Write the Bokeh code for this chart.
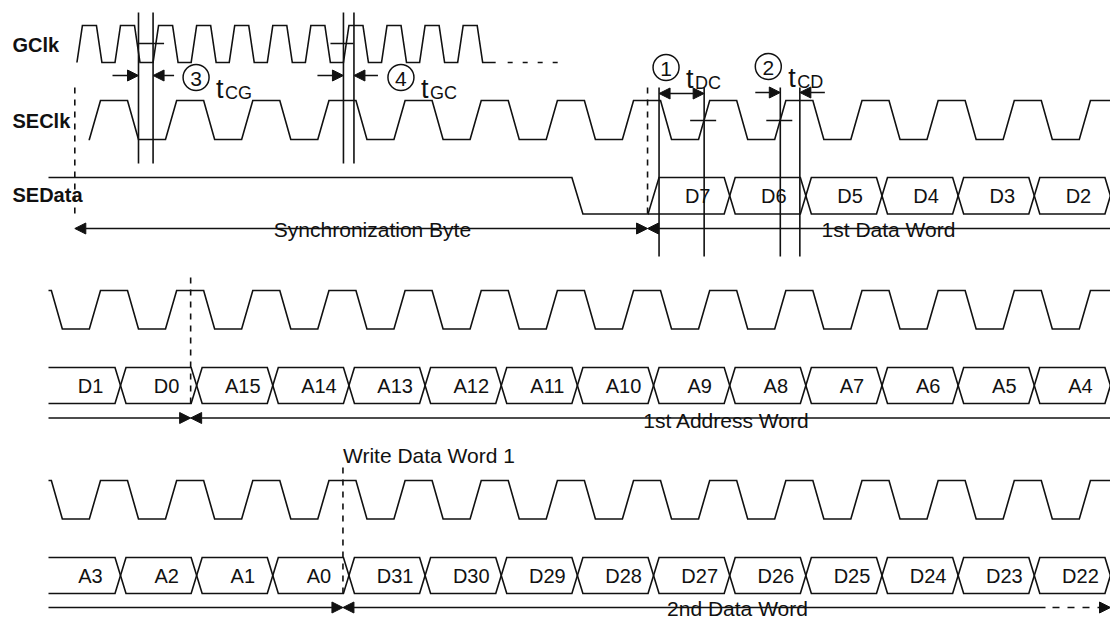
import numpy as np
from bokeh.plotting import figure
from bokeh.models import Range1d, ColumnDataSource, Arrow, NormalHead
from bokeh.core.properties import value
from bokeh.embed import file_html
from bokeh.resources import INLINE

# ---------------- data ----------------
signal_names = ["GClk", "SEClk", "SEData"]
row1_bits = ["D7", "D6", "D5", "D4", "D3", "D2"]
row2_bits = ["D1", "D0", "A15", "A14", "A13", "A12", "A11", "A10", "A9", "A8", "A7", "A6", "A5", "A4"]
row3_bits = ["A3", "A2", "A1", "A0", "D31", "D30", "D29", "D28", "D27", "D26", "D25", "D24", "D23", "D22"]
gclk_pulse_count = 11
row1_low_cycle = 6          # SEData drops low at this SEClk cycle
row1_first_bit_cycle = 7    # D7 begins at this cycle
timing_numbers = ["1", "2", "3", "4"]
timing_subscripts = ["DC", "CD", "CG", "GC"]
row1_spans = ["Synchronization Byte", "1st Data Word"]
row2_spans = ["1st Address Word"]
row3_spans = ["Write Data Word 1", "2nd Data Word"]

# ---------------- layout ----------------
W, H = 1110, 619
T0, P = 120.0, 76.15          # first bit boundary, SEClk period
XL, XR = 48.0, 1110.0
ROW_DY = 190.0
FONT = "Liberation Sans"
LW = 1.6
BLACK = "#111111"
WX = 5.5                       # half width of a bus crossing


def X(k):
    return T0 + P * k


def clip(xs, ys, x0, x1):
    xs = np.asarray(xs, float)
    ys = np.asarray(ys, float)
    inside = (xs > x0) & (xs < x1)
    nx = [x0] + list(xs[inside]) + [x1]
    ny = [float(np.interp(x0, xs, ys))] + list(ys[inside]) + [float(np.interp(x1, xs, ys))]
    return nx, ny


def seclk(x0, x1, hi, lo):
    xs, ys = [], []
    for k in range(-3, 16):
        c = X(k)
        xs += [c - 20, c + 7, c + 18, c + 45]
        ys += [hi, hi, lo, lo]
    return clip(xs, ys, x0, x1)


def zigzag(x0, x1, level0, crossings, hi, lo):
    lv = level0
    xs, ys = [x0 - 50], [lv]
    for c in crossings:
        other = lo if lv == hi else hi
        xs += [c - WX, c + WX]
        ys += [lv, other]
        lv = other
    xs.append(x1 + 50)
    ys.append(lv)
    return clip(xs, ys, x0, x1)


p = figure(width=W, height=H, x_range=Range1d(0, W), y_range=Range1d(H, 0),
           output_backend="svg", toolbar_location=None, min_border=0,
           x_axis_location=None, y_axis_location=None)
p.grid.visible = False
p.outline_line_color = None
p.background_fill_color = "white"
p.border_fill_color = "white"

solid_xs, solid_ys = [], []
dash_xs, dash_ys = [], []


def seg(x0, y0, x1, y1):
    solid_xs.append([x0, x1]); solid_ys.append([y0, y1])


def dseg(x0, y0, x1, y1):
    dash_xs.append([x0, x1]); dash_ys.append([y0, y1])


labels_x, labels_y, labels_t = [], [], []

# ---------- row 1 ----------
G_HI, G_LO = 25.0, 62.0
half = P / 2
ts0 = X(-0.5)
gx, gy = [ts0 - 5.5], [G_LO]
for j in range(gclk_pulse_count):
    ts = ts0 + j * half
    gx += [ts - 5.5, ts, ts + 14, ts + 19.5]
    gy += [G_LO, G_HI, G_HI, G_LO]
g_end = gx[-1]
gx.append(g_end + 13); gy.append(G_LO)
solid_xs.append(gx); solid_ys.append(gy)

C1_HI, C1_LO = 100.0, 139.0
sx, sy = seclk(X(-0.42), XR, C1_HI, C1_LO)
solid_xs.append(sx); solid_ys.append(sy)

D1_HI, D1_LO = 177.0, 213.5
cr = [X(row1_low_cycle)] + [X(k) for k in range(row1_first_bit_cycle, row1_first_bit_cycle + len(row1_bits) + 1)]
ax, ay = zigzag(XL, XR, D1_HI, cr, D1_HI, D1_LO)
solid_xs.append(ax); solid_ys.append(ay)
cr2 = [X(k) for k in range(row1_first_bit_cycle + 1, row1_first_bit_cycle + len(row1_bits) + 1)]
bx, by = zigzag(X(row1_first_bit_cycle) - WX, XR, D1_LO, cr2, D1_HI, D1_LO)
solid_xs.append(bx); solid_ys.append(by)
for i, b in enumerate(row1_bits):
    labels_x.append(X(row1_first_bit_cycle + i + 1) - 32)
    labels_y.append((D1_HI + D1_LO) / 2)
    labels_t.append(b)

# ---------- rows 2 and 3 ----------
for r, bits in ((1, row2_bits), (2, row3_bits)):
    hi = C1_HI + ROW_DY * r
    lo = hi + 38.5
    cx, cy = seclk(XL, XR, hi, lo)
    solid_xs.append(cx); solid_ys.append(cy)
    dhi = D1_HI + ROW_DY * r
    dlo = dhi + 36.0
    crs = [X(k) for k in range(len(bits))]
    ax, ay = zigzag(XL, XR, dhi, crs, dhi, dlo)
    bx, by = zigzag(XL, XR, dlo, crs, dhi, dlo)
    solid_xs += [ax, bx]; solid_ys += [ay, by]
    for i, b in enumerate(bits):
        labels_x.append(X(i) - 30)
        labels_y.append((dhi + dlo) / 2)
        labels_t.append(b)

# GClk dotted continuation
GD0 = g_end + 13
p.line([GD0 + 12, X(5.75)], [G_LO, G_LO], line_color=BLACK, line_width=LW, line_dash="5 10")

# ---------- timing markers ----------
tcg_l = X(0) + 18
tcg_r = ts0 + 2 * half - 5.5
tgc_l = ts0 + 7 * half - 5.5
tgc_r = X(3) + 5
for x in (tcg_l, tcg_r, tgc_l, tgc_r):
    seg(x, 12, x, 163)
seg(tcg_r - 14, 43, tcg_r + 11, 43)
seg(tgc_l - 13, 43, tgc_l + 10, 43)

tdc_l = X(7) + WX
tdc_r = X(7) + 50.6
tcd_l = X(8) + 50.6
tcd_r = X(9) - 6
for x in (tdc_l, tdc_r, tcd_l, tcd_r):
    seg(x, 87, x, 256)
seg(tdc_r - 14, 120, tdc_r + 12, 120)
seg(tcd_l - 14, 120, tcd_l + 12, 120)

# dashed reference lines
sync_x = X(-0.6)
b1 = X(row1_first_bit_cycle) - 6
b2 = X(1) - 6
b3 = X(3) - 6
dseg(sync_x, 87, sync_x, 215)
dseg(b1, 87, b1, 215)
dseg(b2, 277, b2, 405)
dseg(b3, 467, b3, 595)

p.multi_line(xs=solid_xs, ys=solid_ys, line_color=BLACK, line_width=LW, line_join="miter")
p.multi_line(xs=dash_xs, ys=dash_ys, line_color=BLACK, line_width=LW, line_dash="6 6")


def head():
    return NormalHead(size=11, fill_color=BLACK, line_color=BLACK, line_width=1)


def arrow(x0, y0, x1, y1, start=False, end=True):
    p.add_layout(Arrow(x_start=x0, y_start=y0, x_end=x1, y_end=y1,
                       start=head() if start else None, end=head() if end else None,
                       line_color=BLACK, line_width=LW))


# timing arrows
TA_Y = 75
arrow(tcg_l - 26, TA_Y, tcg_l, TA_Y)
arrow(tcg_r + 21, TA_Y, tcg_r, TA_Y)
arrow(tgc_l - 26, TA_Y, tgc_l, TA_Y)
arrow(tgc_r + 24, TA_Y, tgc_r, TA_Y)
arrow(tdc_l, 93, tdc_r, 93, start=True, end=True)
arrow(tcd_l - 25, 92, tcd_l, 92)
arrow(tcd_r + 25, 92, tcd_r, 92)

# span arrows
SPAN1 = 228.0
arrow(sync_x, SPAN1, b1, SPAN1, start=True, end=True)
arrow(XR + 5, SPAN1, b1, SPAN1)
SPAN2 = SPAN1 + 189.5
arrow(XL, SPAN2, b2, SPAN2)
arrow(XR + 5, SPAN2, b2, SPAN2)
SPAN3 = SPAN2 + 189.5
arrow(XL, SPAN3, b3, SPAN3)
arrow(1045, SPAN3, b3, SPAN3)
p.line([1052, 1100], [SPAN3, SPAN3], line_color=BLACK, line_width=LW, line_dash="7 8")
arrow(1102, SPAN3, XR, SPAN3)

# ---------- texts ----------
# cell labels
p.text(x=labels_x, y=labels_y, text=labels_t, text_font=value(FONT), text_font_size="20px",
       text_align="center", text_baseline="middle", text_color=BLACK)

# signal names
p.text(x=[12, 12, 12], y=[44, 120, 194], text=signal_names, text_font=value(FONT),
       text_font_size="20px", text_font_style="bold", text_align="left",
       text_baseline="middle", text_color=BLACK)

# span labels (white background interrupts the line)
span_src = ColumnDataSource(dict(
    x=[372, 888, 726, 737],
    y=[SPAN1 + 1, SPAN1 + 1, SPAN2 + 2, SPAN3 + 1],
    t=[row1_spans[0], row1_spans[1], row2_spans[0], row3_spans[1]]))
p.text(x="x", y="y", text="t", source=span_src, text_font=value(FONT), text_font_size="21px",
       text_align="center", text_baseline="middle", text_color=BLACK,
       background_fill_color="white", padding=1)
p.text(x=[b3], y=[455], text=[row3_spans[0]], text_font=value(FONT), text_font_size="21px",
       text_align="left", text_baseline="middle", text_color=BLACK)

# circled timing numbers with t_xx labels
circ_x = [tdc_l + 7, tcd_l - 12, tcg_r + 43, tgc_r + 47]
circ_y = [67, 66, TA_Y + 2, TA_Y + 2]
p.scatter(x=circ_x, y=circ_y, marker="circle", size=26, fill_color=None,
          line_color=BLACK, line_width=1.5)
p.text(x=circ_x, y=[cy + 1 for cy in circ_y], text=timing_numbers, text_font=value(FONT),
       text_font_size="21px", text_align="center", text_baseline="middle", text_color=BLACK)
tx = [cx + 20 for cx in circ_x]
p.text(x=tx, y=[cy + 11 for cy in circ_y], text=["t"] * 4, text_font=value(FONT),
       text_font_size="27px", text_align="left", text_baseline="alphabetic", text_color=BLACK)
p.text(x=[x + 9 for x in tx], y=[cy + 15 for cy in circ_y], text=timing_subscripts,
       text_font=value(FONT), text_font_size="18px", text_align="left",
       text_baseline="alphabetic", text_color=BLACK)

open("out.html", "w").write(file_html(p, INLINE))
